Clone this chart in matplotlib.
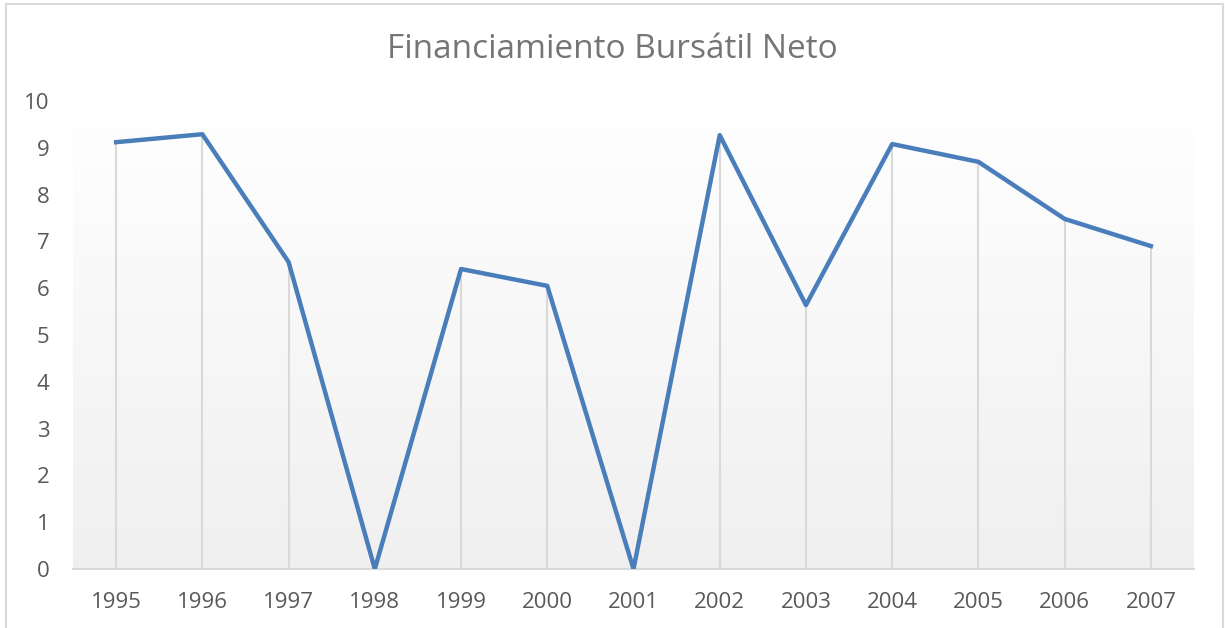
import numpy as np
import matplotlib.pyplot as plt
from matplotlib.patches import Rectangle

# Financiamiento bursatil neto, 1995-2007
years = ['1995', '1996', '1997', '1998', '1999', '2000', '2001',
         '2002', '2003', '2004', '2005', '2006', '2007']
values = [9.12, 9.29, 6.56, 0.0, 6.41, 6.05, 0.0,
          9.27, 5.64, 9.08, 8.70, 7.48, 6.90]

plt.rcParams['font.family'] = ['Open Sans', 'DejaVu Sans']

fig = plt.figure(figsize=(12.25, 6.28), dpi=100)
ax = fig.add_axes([73 / 1225, 1 - 569 / 628, (1194 - 73) / 1225, (569 - 101) / 628])

x = np.arange(len(years))

# background gradient, white at top to light gray at bottom
grad = np.linspace(1.0, 0.94, 256).reshape(-1, 1)
ax.imshow(np.dstack([grad, grad, grad]), extent=(-0.5, 12.5, 0, 10),
          aspect='auto', origin='upper', zorder=0)

# drop lines
ax.vlines(x, 0, values, color='#d9d9d9', lw=1.5, zorder=1)
ax.plot(x, values, color='#4a7ebb', lw=3.2, solid_joinstyle='round', zorder=3)

ax.set_xlim(-0.5, 12.5)
ax.set_ylim(0, 10)
ax.set_xticks(x)
ax.set_xticklabels(years)
ax.set_yticks(range(0, 11))
ax.tick_params(axis='both', length=0, labelsize=16, colors='#595959')
ax.tick_params(axis='x', pad=16.5)
ax.tick_params(axis='y', pad=17)
for s in ['top', 'right', 'left']:
    ax.spines[s].set_visible(False)
ax.spines['bottom'].set_color('#d9d9d9')
ax.spines['bottom'].set_linewidth(1.5)

fig.text(0.5, 1 - 49 / 628, 'Financiamiento Bursátil Neto', ha='center', va='center',
         fontsize=24, color='#757575')

fig.patches.append(Rectangle((6 / 1225, -0.1), (1223 - 6) / 1225, 1.1 - 4 / 628,
                             transform=fig.transFigure, fill=False,
                             edgecolor='#d9d9d9', lw=1.5))

fig.savefig('out.png', dpi=100)
